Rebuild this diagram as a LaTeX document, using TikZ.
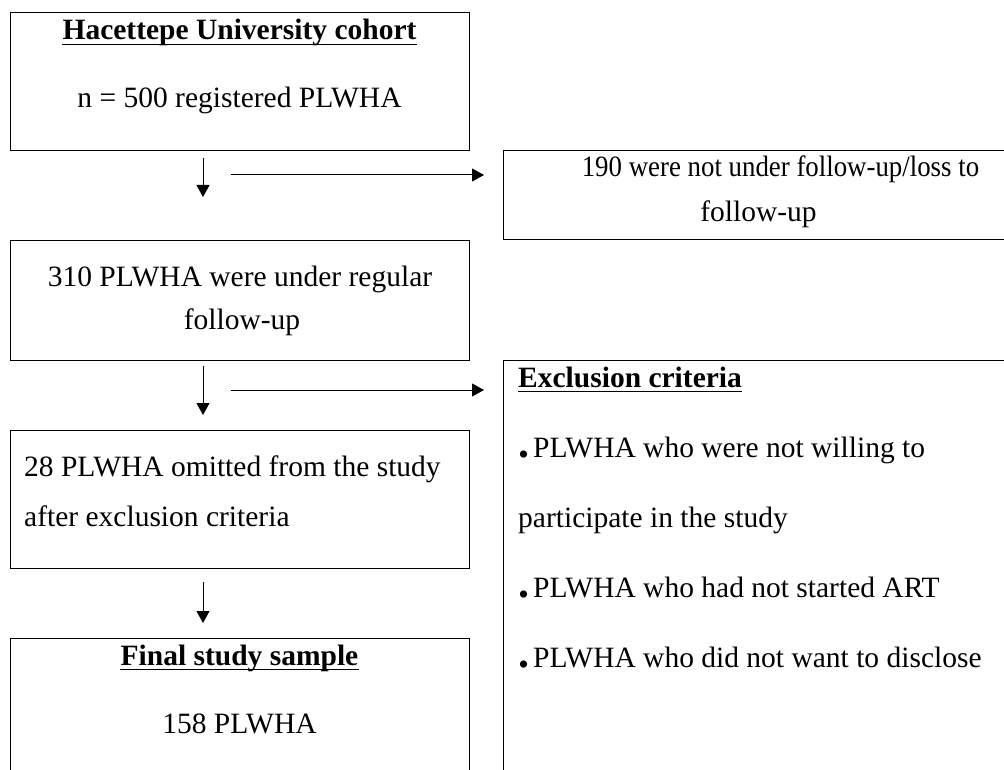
\documentclass[tikz,border=0pt]{standalone}
\usepackage{fontspec}
\setmainfont{Liberation Serif}
\usetikzlibrary{arrows.meta}

\newcommand{\bdot}{{\fontsize{44}{44}\selectfont\textbf{.}}\hspace{4pt}}

\begin{document}
\begin{tikzpicture}[x=1pt, y=-1pt,
	box/.style={draw, line width=1.3pt, inner sep=0pt, anchor=north west},
	txt/.style={inner sep=0pt, anchor=base, font=\fontsize{29.5}{35}\selectfont},
	ltxt/.style={txt, anchor=base west},
	head/.style={txt, font=\fontsize{29.5}{35}\selectfont\bfseries},
	uline/.style={line width=1.8pt},
	arr/.style={line width=1pt, -{Triangle[length=12pt, width=13pt]}}]
	\useasboundingbox (0,0) rectangle (1004,770);
	\clip (0,0) rectangle (1004,770);
	% boxes
	\node[box, minimum width=459pt, minimum height=138pt] (cohort) at (10,12) {};
	\node[box, minimum width=512pt, minimum height=89pt] (lost) at (503,150) {};
	\node[box, minimum width=459pt, minimum height=120pt] (regular) at (10,240) {};
	\node[box, minimum width=459pt, minimum height=138pt] (omitted) at (10,430) {};
	\node[box, minimum width=459pt, minimum height=152pt] (final) at (10,638) {};
	\node[box, minimum width=512pt, minimum height=430pt] (excl) at (503,360) {};
	% texts
	\node[head] (cohortH) at (239.5,40) {Hacettepe University cohort};
	\node[txt] (cohortN) at (239.5,108) {n = 500 registered PLWHA};
	\node[txt] (lostA) at (780.5,177) {\scalebox{0.91}[1]{190 were not under follow-up/loss to}};
	\node[txt] (lostB) at (758.5,222) {follow-up};
	\node[txt] (regA) at (240,287) {310 PLWHA were under regular};
	\node[txt] (regB) at (242,329) {follow-up};
	\node[ltxt] (omA) at (24,476) {28 PLWHA omitted from the study};
	\node[ltxt] (omB) at (24,526) {after exclusion criteria};
	\node[head] (finalH) at (239.5,665) {Final study sample};
	\node[txt] (finalN) at (239.5,733) {158 PLWHA};
	\node[head, anchor=base west] (exclH) at (518,387) {Exclusion criteria};
	\node[ltxt] (exclA) at (518,457) {\bdot PLWHA who were not willing to};
	\node[ltxt] (exclB) at (518,527) {participate in the study};
	\node[ltxt] (exclC) at (518,597) {\bdot PLWHA who had not started ART};
	\node[ltxt] (exclD) at (518,667) {\bdot PLWHA who did not want to disclose};
	% underlines
	\draw[uline] ([yshift=-4.5pt]cohortH.base west) -- ([yshift=-4.5pt]cohortH.base east);
	\draw[uline] ([yshift=-4.5pt]finalH.base west) -- ([yshift=-4.5pt]finalH.base east);
	\draw[uline] ([yshift=-4.5pt]exclH.base west) -- ([yshift=-4.5pt]exclH.base east);
	% arrows
	\coordinate (d1a) at (203,158);
	\coordinate (d1b) at (203,197);
	\coordinate (d2a) at (203,366);
	\coordinate (d2b) at (203,415);
	\coordinate (d3a) at (203,582);
	\coordinate (d3b) at (203,623);
	\coordinate (r1a) at (231,175);
	\coordinate (r1b) at (484,175);
	\coordinate (r2a) at (231,390);
	\coordinate (r2b) at (484,390);
	\draw[arr] (d1a) -- (d1b);
	\draw[arr] (d2a) -- (d2b);
	\draw[arr] (d3a) -- (d3b);
	\draw[arr] (r1a) -- (r1b);
	\draw[arr] (r2a) -- (r2b);
\end{tikzpicture}
\end{document}
